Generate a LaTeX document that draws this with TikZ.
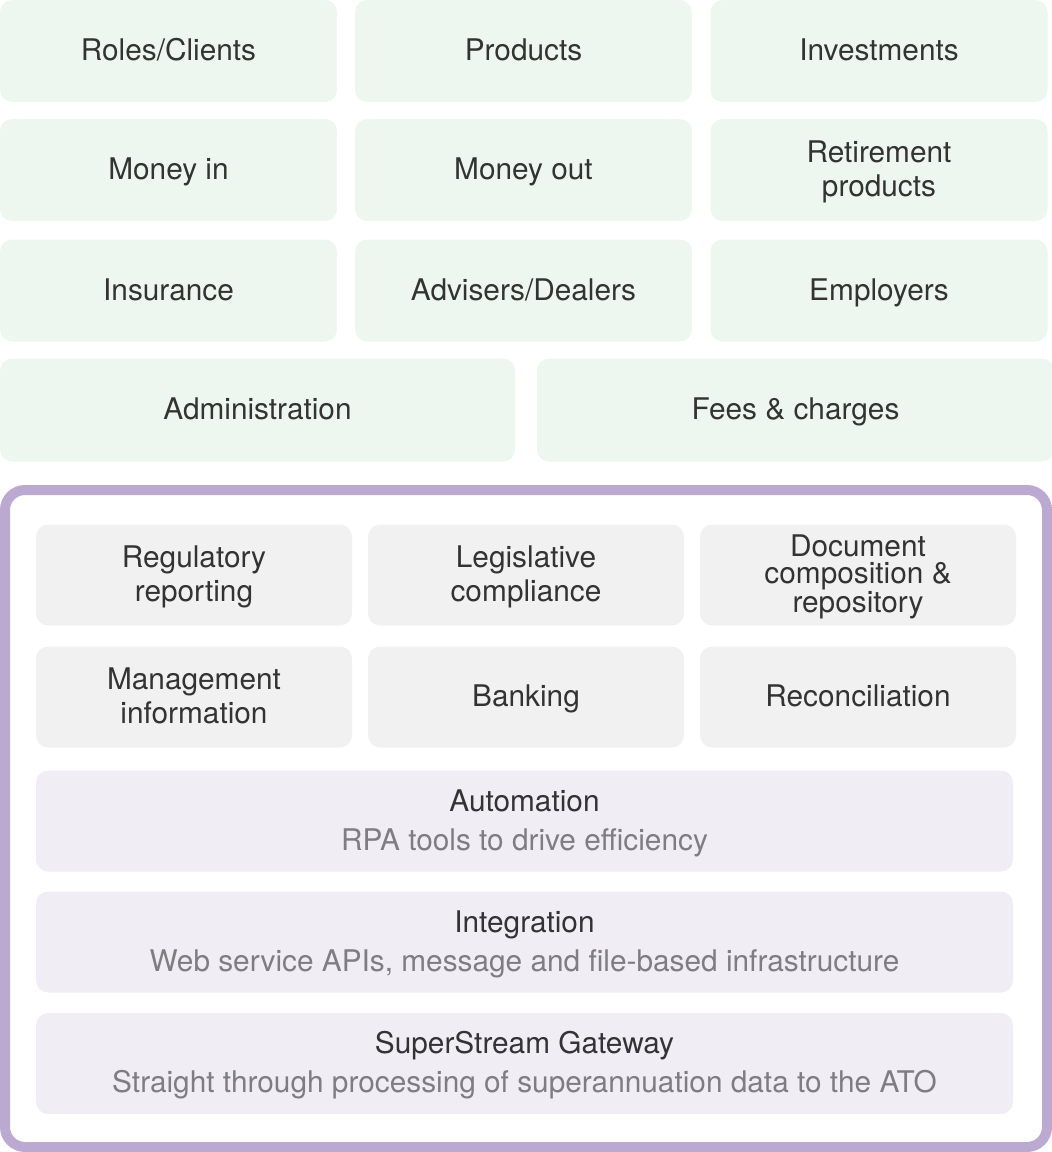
\documentclass[tikz,border=0pt]{standalone}
\usepackage{fontspec}
\setmainfont{TeX Gyre Heros}
\usetikzlibrary{positioning}
\definecolor{boxGreen}{HTML}{EDF7F0}
\definecolor{boxGrey}{HTML}{F1F1F1}
\definecolor{boxLilac}{HTML}{F0EDF5}
\definecolor{frameLilac}{HTML}{BBA9D1}
\definecolor{txtDark}{HTML}{333333}
\definecolor{txtGrey}{HTML}{7D7D82}
\tikzset{
	cell/.style={rounded corners=12pt, inner sep=0pt, outer sep=0pt, align=center,
		text=txtDark, text depth=0.27em, font=\fontsize{29.8}{34}\selectfont},
	topcell/.style={cell, fill=boxGreen, minimum width=337pt, minimum height=102pt},
	widetop/.style={cell, fill=boxGreen, minimum width=515pt, minimum height=103pt},
	greycell/.style={cell, fill=boxGrey, minimum width=316pt, minimum height=101pt},
	layer/.style={cell, fill=boxLilac, minimum width=977pt, minimum height=101pt},
	tight/.style={font=\fontsize{29.8}{27}\selectfont}
}
\newcommand{\sub}[1]{\\[5pt]{\color{txtGrey}#1}}

\begin{document}
\begin{tikzpicture}[x=1pt,y=-1pt]
	\useasboundingbox (0,0) rectangle (1052,1152);
	% business domains
	\node[topcell] (roles) at (168.5, 51) {Roles/Clients};
	\node[topcell] (products) at (523.5, 51) {Products};
	\node[topcell] (invest) at (879, 51) {Investments};
	\node[topcell] (moneyin) at (168.5, 170) {Money in};
	\node[topcell] (moneyout) at (523.5, 170) {Money out};
	\node[topcell] (retire) at (879, 170) {Retirement\\products};
	\node[topcell] (insurance) at (168.5, 290.5) {Insurance};
	\node[topcell] (advisers) at (523.5, 290.5) {Advisers/Dealers};
	\node[topcell] (employers) at (879, 290.5) {Employers};
	\node[widetop] (admin) at (257.5, 410) {Administration};
	\node[widetop, minimum width=517pt] (fees) at (795.5, 410) {Fees \& charges};
	% platform frame
	\draw[frameLilac, line width=10pt, rounded corners=20pt] (5, 490) rectangle (1047, 1147);
	\node[greycell] (regrep) at (194, 575) {Regulatory\\reporting};
	\node[greycell] (legis) at (526, 575) {Legislative\\compliance};
	\node[greycell, tight] (docs) at (858, 575) {Document\\composition \&\\repository};
	\node[greycell] (mgmt) at (194, 697) {Management\\information};
	\node[greycell] (banking) at (526, 697) {Banking};
	\node[greycell] (recon) at (858, 697) {Reconciliation};
	\node[layer] (auto) at (524.5, 821) {Automation\sub{RPA tools to drive efficiency}};
	\node[layer] (integ) at (524.5, 942) {Integration\sub{Web service APIs, message and file-based infrastructure}};
	\node[layer] (gateway) at (524.5, 1063.5) {SuperStream Gateway\sub{Straight through processing of superannuation data to the ATO}};
\end{tikzpicture}
\end{document}
